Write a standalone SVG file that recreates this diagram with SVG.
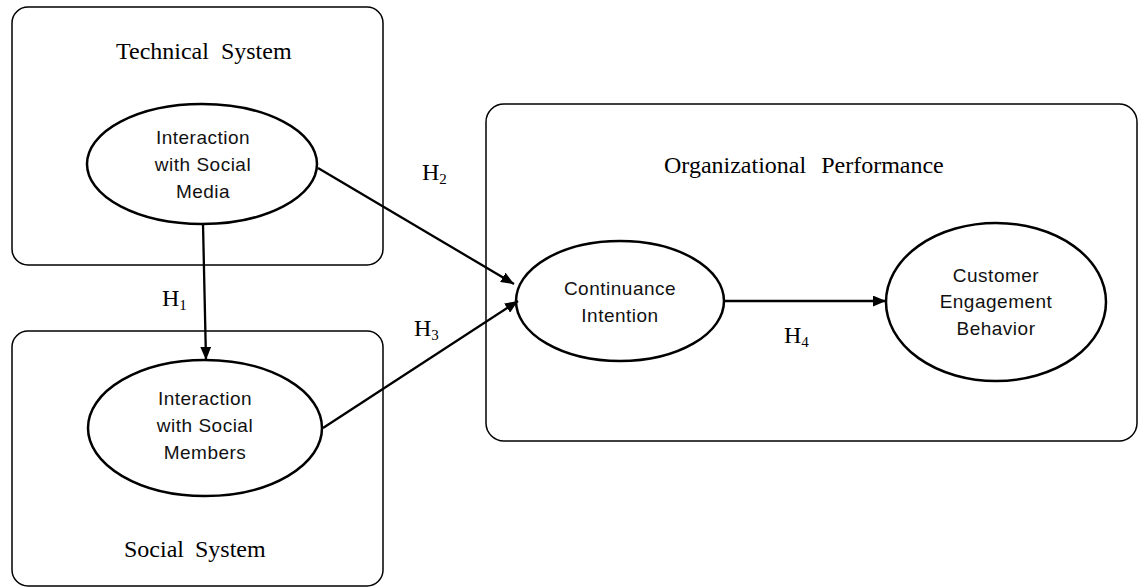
<svg xmlns="http://www.w3.org/2000/svg" width="1138" height="588" viewBox="0 0 1138 588">
<defs>
<marker id="ah" viewBox="0 0 12 10" refX="12" refY="5" markerWidth="13" markerHeight="11" markerUnits="userSpaceOnUse" orient="auto">
<path d="M0,0 L12,5 L0,10 Z" fill="#000"/>
</marker>
<style>
.box{fill:#fff;stroke:#000;stroke-width:1.5}
.ell{fill:#fff;stroke:#000;stroke-width:2.5}
.serif{font-family:"Liberation Serif","Times New Roman",serif;font-size:24px;fill:#000}
.sub{font-family:"Liberation Serif","Times New Roman",serif;font-size:15px;fill:#000}
.lbl{font-family:"Liberation Sans",Arial,sans-serif;font-size:19px;fill:#111;text-anchor:middle;letter-spacing:0.5px}
.con{stroke:#000;stroke-width:2.3;fill:none;marker-end:url(#ah)}
</style>
</defs>
<rect width="1138" height="588" fill="#fff"/>
<g id="technical-system">
<rect class="box" x="12" y="7" width="371" height="258" rx="16"/>
<text class="serif" x="116" y="59" word-spacing="6">Technical System</text>
</g>
<g id="social-system">
<rect class="box" x="12" y="331" width="371" height="255" rx="16"/>
<text class="serif" x="124" y="557" word-spacing="5">Social System</text>
</g>
<g id="organizational-performance">
<rect class="box" x="486" y="104" width="651" height="337" rx="18"/>
<text class="serif" x="664" y="173" word-spacing="9">Organizational Performance</text>
</g>
<g id="interaction-social-media">
<ellipse class="ell" cx="202" cy="164" rx="115" ry="60"/>
<text class="lbl" x="203" y="144">Interaction</text>
<text class="lbl" x="203" y="171">with Social</text>
<text class="lbl" x="203" y="198">Media</text>
</g>
<g id="interaction-social-members">
<ellipse class="ell" cx="205" cy="428" rx="117" ry="68"/>
<text class="lbl" x="205" y="405">Interaction</text>
<text class="lbl" x="205" y="432">with Social</text>
<text class="lbl" x="205" y="459">Members</text>
</g>
<g id="continuance-intention">
<ellipse class="ell" cx="620" cy="301" rx="104" ry="60"/>
<text class="lbl" x="620" y="295">Continuance</text>
<text class="lbl" x="620" y="322">Intention</text>
</g>
<g id="customer-engagement-behavior">
<ellipse class="ell" cx="996" cy="302" rx="110" ry="79"/>
<text class="lbl" x="996" y="282">Customer</text>
<text class="lbl" x="996" y="308">Engagement</text>
<text class="lbl" x="996" y="335">Behavior</text>
</g>
<g id="connectors">
<line class="con" x1="203" y1="224" x2="206" y2="360"/>
<line class="con" x1="318" y1="168" x2="514" y2="284"/>
<line class="con" x1="323" y1="428" x2="518" y2="301"/>
<line class="con" x1="724" y1="301" x2="886" y2="301"/>
<text class="serif" x="162" y="306">H<tspan class="sub" dy="4">1</tspan></text>
<text class="serif" x="422" y="180">H<tspan class="sub" dy="4">2</tspan></text>
<text class="serif" x="414" y="336">H<tspan class="sub" dy="4">3</tspan></text>
<text class="serif" x="784" y="343">H<tspan class="sub" dy="4">4</tspan></text>
</g>
</svg>
